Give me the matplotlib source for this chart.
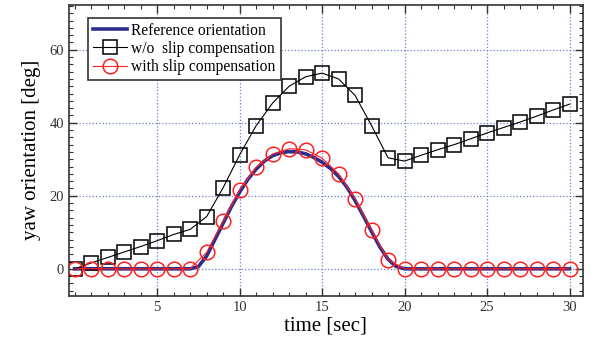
import numpy as np
import matplotlib.pyplot as plt
from matplotlib.ticker import MultipleLocator

# time samples (markers every second)
t = list(range(31))
# w/o slip compensation
yaw_noslip = [0, 1.6, 3.1, 4.6, 6.1, 7.7, 9.4, 10.8, 14.3, 22.2, 31.2, 39.2, 45.4, 50.0, 52.6,
              53.6, 52.0, 47.5, 39.2, 30.4, 29.5, 31.1, 32.6, 34.0, 35.6, 37.2, 38.7, 40.2,
              41.8, 43.5, 45.1]
# with slip compensation
yaw_slip = [0, 0, 0, 0, 0, 0, 0, 0, 4.5, 13.0, 21.6, 27.8, 31.4, 32.9, 32.6,
            30.3, 26.0, 19.2, 10.5, 2.5, 0, 0, 0, 0, 0, 0, 0, 0, 0, 0, 0]
# reference orientation (read every 0.5 s)
t_ref = [0, 7, 7.5, 8, 8.5, 9, 9.5, 10, 10.5, 11, 11.5, 12, 12.5, 13, 13.5, 14, 14.5, 15,
         15.5, 16, 16.5, 17, 17.5, 18, 18.5, 19, 19.5, 20, 30]
yaw_ref = [0, 0, 0.6, 3.5, 8.0, 12.5, 17.0, 21.0, 24.5, 27.3, 29.5, 31.0, 31.8, 32.1, 32.0,
           31.5, 30.5, 29.2, 27.5, 25.3, 22.4, 18.7, 14.5, 10.2, 6.0, 2.6, 0.6, 0, 0]

plt.rcParams['font.family'] = ['Liberation Serif', 'DejaVu Serif']

fig = plt.figure(figsize=(5.94, 3.46), dpi=100)
ax = fig.add_axes([0.116, 0.145, 0.865, 0.841])

ax.plot(t_ref, yaw_ref, color='#2b2f8c', lw=2.6, label='Reference orientation', zorder=3)
ax.plot(t, yaw_noslip, color='black', lw=0.8, marker='s', ms=10.5, mfc='none', mec='black',
        mew=1.1, label='w/o  slip compensation', zorder=4)
ax.plot(t, yaw_slip, color='#ff2020', lw=0.8, marker='o', ms=10.5, mfc='none', mec='#ff2020',
        mew=1.1, label='with slip compensation', zorder=5)

ax.set_xlim(-0.35, 30.8)
ax.set_ylim(-7.4, 72.3)
ax.set_xticks([5, 10, 15, 20, 25, 30])
ax.set_yticks([0, 20, 40, 60])
ax.xaxis.set_minor_locator(MultipleLocator(1))
ax.yaxis.set_minor_locator(MultipleLocator(2))
ax.tick_params(which='both', direction='in', top=True, right=True, colors='#333333',
               labelsize=10.5)
ax.tick_params(which='major', length=6, width=1)
ax.tick_params(which='minor', length=3, width=0.8)
for s in ax.spines.values():
    s.set_color('#333333')
    s.set_linewidth(1.2)
ax.grid(True, which='major', color='#6a7ed8', ls=':', lw=0.9)

ax.set_xlabel('time [sec]', fontsize=15, labelpad=2)
ax.set_ylabel('yaw orientation [deg]', fontsize=15, labelpad=6)

leg = ax.legend(loc='upper left', bbox_to_anchor=(0.037, 0.955), fontsize=11.2, fancybox=False,
                framealpha=1, edgecolor='#333333', handlelength=2.2, handletextpad=0.3,
                borderpad=0.3, labelspacing=0.15, borderaxespad=0)
leg.get_frame().set_linewidth(1.2)

fig.savefig('out.png', dpi=100)
